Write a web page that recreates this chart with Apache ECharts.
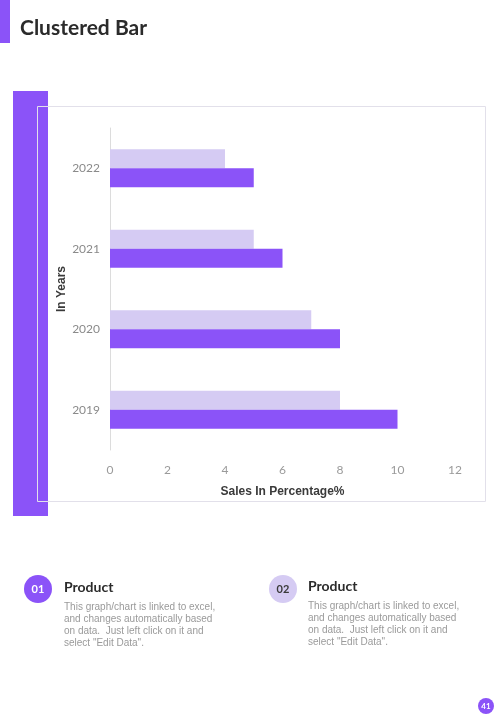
<!DOCTYPE html>
<html>
<head>
<meta charset="utf-8">
<script src="https://cdn.jsdelivr.net/npm/echarts@6/dist/echarts.min.js"></script>
<style>
  html, body { margin: 0; padding: 0; background: #fff; }
  #main { width: 498px; height: 720px; }
</style>
</head>
<body>
<div id="main"></div>
<script>
// chart data
const years = ['2019', '2020', '2021', '2022'];
const seriesA = [8, 7, 5, 4];   // light bars (upper)
const seriesB = [10, 8, 6, 5];  // dark bars (lower)
const xTicks = [0, 2, 4, 6, 8, 10, 12];

const DARK = '#8b53f8';
const LIGHT = '#d5cbf3';
const BODY = 'This graph/chart is linked to excel,\nand changes automatically based\non data.  Just left click on it and\nselect "Edit Data".';

const chart = echarts.init(document.getElementById('main'));

chart.setOption({
    backgroundColor: '#fff',
    animation: false,
    grid: {left: 110, right: 43, top: 128, bottom: 270},
    xAxis: {
        type: 'value',
        min: xTicks[0],
        max: xTicks[xTicks.length - 1],
        interval: 2,
        name: 'Sales In Percentage%',
        nameLocation: 'middle',
        nameGap: 36,
        nameTextStyle: {fontFamily: 'Liberation Sans', fontWeight: 'bold', fontSize: 12, color: '#3a3a3a'},
        axisLine: {show: false},
        axisTick: {show: false},
        splitLine: {show: false},
        axisLabel: {color: '#9a9a9a', fontSize: 12, fontFamily: 'Lato', margin: 14}
    },
    yAxis: {
        type: 'category',
        data: years,
        name: 'In Years',
        nameLocation: 'middle',
        nameGap: 42,
        nameMoveOverlap: false,
        nameRotate: 90,
        nameTextStyle: {fontFamily: 'Liberation Sans', fontWeight: 'bold', fontSize: 12, color: '#3a3a3a'},
        axisLine: {show: true, lineStyle: {color: '#dcdcdc'}},
        axisTick: {show: false},
        axisLabel: {color: '#8a8a8a', fontSize: 12, fontFamily: 'Lato', margin: 10}
    },
    series: [
        {
            type: 'bar',
            data: seriesA,
            barWidth: 19,
            barGap: '0%',
            itemStyle: {color: LIGHT}
        },
        {
            type: 'bar',
            data: seriesB,
            barWidth: 19,
            barGap: '0%',
            itemStyle: {color: DARK}
        }
    ],
    graphic: [
        // header accent and title
        {type: 'rect', left: 0, top: 0, shape: {width: 10, height: 43}, style: {fill: DARK}, z: -1},
        {type: 'text', left: 20, top: 18, style: {text: 'Clustered Bar', font: 'bold 21px Lato', fill: '#2b2b2b'}},
        // purple side bar and chart frame
        {type: 'rect', left: 13, top: 91, shape: {width: 35, height: 425}, style: {fill: DARK}, z: -2},
        {type: 'rect', left: 37, top: 106, shape: {width: 448, height: 395},
            style: {fill: 'rgba(0,0,0,0)', stroke: '#e2e0ea', lineWidth: 1}, z: -1},
        // bottom notes
        {type: 'circle', shape: {cx: 38, cy: 589, r: 14}, style: {fill: DARK}},
        {type: 'text', x: 38, y: 589, style: {text: '01', font: 'bold 11px Lato', fill: '#fff', align: 'center', verticalAlign: 'middle'}},
        {type: 'text', left: 64, top: 580, style: {text: 'Product', font: 'bold 14px Lato', fill: '#2b2b2b'}},
        {type: 'text', left: 64, top: 601, style: {text: BODY, font: '10px Liberation Sans', fill: '#9a9a9a', lineHeight: 12}},
        {type: 'circle', shape: {cx: 283, cy: 589, r: 14}, style: {fill: LIGHT}},
        {type: 'text', x: 283, y: 589, style: {text: '02', font: 'bold 11px Lato', fill: '#3a3a3a', align: 'center', verticalAlign: 'middle'}},
        {type: 'text', left: 308, top: 579, style: {text: 'Product', font: 'bold 14px Lato', fill: '#2b2b2b'}},
        {type: 'text', left: 308, top: 600, style: {text: BODY, font: '10px Liberation Sans', fill: '#9a9a9a', lineHeight: 12}},
        // page number
        {type: 'circle', shape: {cx: 486, cy: 706, r: 8}, style: {fill: DARK}},
        {type: 'text', x: 486, y: 706, style: {text: '41', font: 'bold 8px Lato', fill: '#fff', align: 'center', verticalAlign: 'middle'}}
    ]
});
</script>
</body>
</html>
